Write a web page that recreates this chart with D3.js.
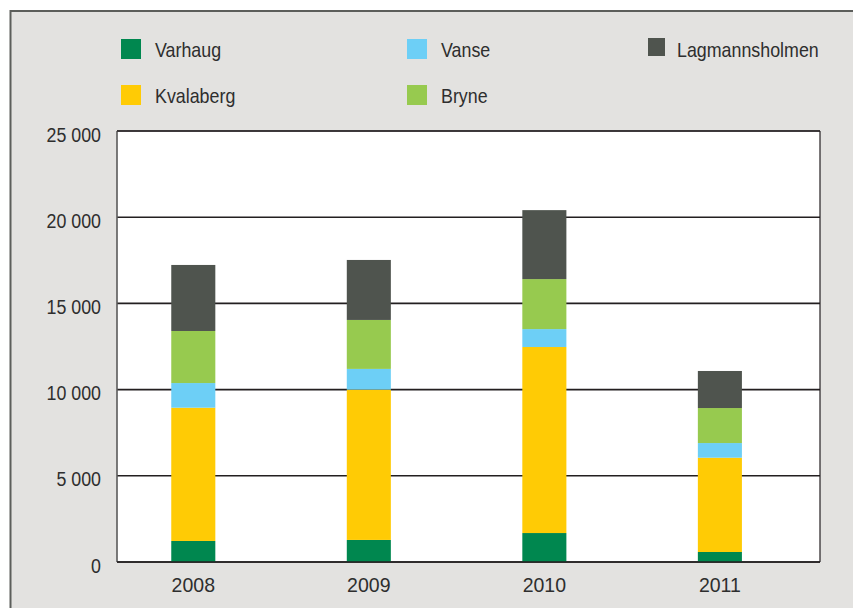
<!DOCTYPE html>
<html><head><meta charset="utf-8">
<script src="https://cdn.jsdelivr.net/npm/d3@7"></script>
<style>
html,body{margin:0;padding:0;background:#fff;}
text{font-family:"Liberation Sans",Arial,sans-serif;fill:#2e2e2e;}
</style></head>
<body><svg id="c" width="853" height="608"></svg>
<script>
const years = ["2008","2009","2010","2011"];
const seriesNames = ["Varhaug","Kvalaberg","Vanse","Bryne","Lagmannsholmen"];
const varhaug = [1220, 1280, 1680, 580];
const kvalaberg = [7730, 8720, 10790, 5470];
const vanse = [1430, 1200, 1040, 850];
const bryne = [3020, 2840, 2900, 2030];
const lagmannsholmen = [3830, 3480, 4000, 2150];
const yTicks = [0, 5000, 10000, 15000, 20000, 25000];
const yTickLabels = ["0","5 000","10 000","15 000","20 000","25 000"];
const colors = ["#00874f","#ffcb05","#6dcff6","#97ca4f","#4f544e"];

const seriesValues = [varhaug, kvalaberg, vanse, bryne, lagmannsholmen];
const table = years.map((y,i)=>{const o={year:y}; seriesNames.forEach((s,j)=>o[s]=seriesValues[j][i]); return o;});

const svg = d3.select("#c");
// frame
svg.append("rect").attr("x",10.5).attr("y",11).attr("width",853).attr("height",608).attr("fill","#e3e2e0");
svg.append("line").attr("x1",10.5).attr("x2",853).attr("y1",11).attr("y2",11).attr("stroke","#5c5e5b").attr("stroke-width",2);
svg.append("line").attr("x1",10.5).attr("x2",10.5).attr("y1",10).attr("y2",608).attr("stroke","#5c5e5b").attr("stroke-width",2);

const L=117, R=820, T=131, B=562;
svg.append("rect").attr("x",L).attr("y",T).attr("width",R-L).attr("height",B-T).attr("fill","#fff");

const y = d3.scaleLinear().domain([0,25000]).range([B,T]);
const x = d3.scaleBand().domain(years).range([L,R]).paddingInner(0.749).paddingOuter(0.377).align(0.41);

// gridlines
svg.append("g").selectAll("line").data(yTicks).join("line")
  .attr("x1",L).attr("x2",R).attr("y1",d=>y(d)).attr("y2",d=>y(d))
  .attr("stroke","#231f20").attr("stroke-width",1.6);

// y tick labels
svg.append("g").selectAll("text").data(yTicks).join("text")
  .attr("transform",d=>`translate(101,${y(d)+10.5}) scale(0.89,1)`).attr("text-anchor","end")
  .attr("font-size",20).text((d,i)=>yTickLabels[i]);

// bars
const stack = d3.stack().keys(seriesNames)(table);
svg.append("g").selectAll("g").data(stack).join("g").attr("fill",(d,i)=>colors[i])
  .selectAll("rect").data(d=>d).join("rect")
  .attr("x",d=>x(d.data.year)).attr("width",x.bandwidth())
  .attr("y",d=>y(d[1])).attr("height",d=>y(d[0])-y(d[1]));

// border
svg.append("line").attr("x1",L).attr("x2",L).attr("y1",T).attr("y2",B).attr("stroke","#5a5a5a").attr("stroke-width",1.6);
svg.append("line").attr("x1",R).attr("x2",R).attr("y1",T).attr("y2",B).attr("stroke","#231f20").attr("stroke-width",1.2);
svg.append("line").attr("x1",L).attr("x2",R).attr("y1",T).attr("y2",T).attr("stroke","#231f20").attr("stroke-width",1.2);
svg.append("line").attr("x1",L).attr("x2",R).attr("y1",B).attr("y2",B).attr("stroke","#231f20").attr("stroke-width",1.6);

// x labels
svg.append("g").selectAll("text").data(years).join("text")
  .attr("transform",d=>`translate(${x(d)+x.bandwidth()/2},592) scale(0.93,1)`).attr("text-anchor","middle")
  .attr("font-size",21).text(d=>d);

// legend
const legendOrder = ["Varhaug","Vanse","Lagmannsholmen","Kvalaberg","Bryne"];
const legCol = [121, 407, 648];
const legRow = [39, 85];
const lg = svg.append("g").selectAll("g").data(legendOrder).join("g")
  .attr("transform",(d,i)=>`translate(${legCol[i%3]},${legRow[Math.floor(i/3)]})`);
lg.append("rect").attr("width",(d)=>d==="Lagmannsholmen"?17:20).attr("height",(d)=>d==="Lagmannsholmen"?18:20)
  .attr("y",d=>d==="Lagmannsholmen"?-1:0)
  .attr("fill",d=>colors[seriesNames.indexOf(d)]);
lg.append("text").attr("transform",d=>`translate(${d==="Lagmannsholmen"?29:34},18) scale(0.85,1)`)
  .attr("font-size",21).text(d=>d);
</script></body></html>
